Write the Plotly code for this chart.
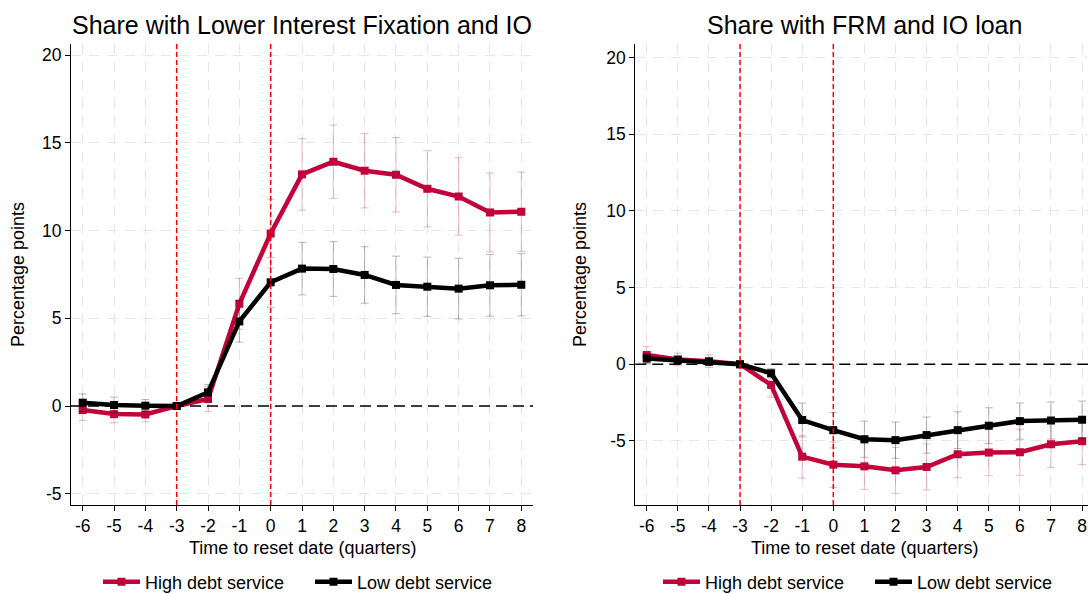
import plotly.graph_objects as go

# ---------------- data ----------------
quarters = [-6, -5, -4, -3, -2, -1, 0, 1, 2, 3, 4, 5, 6, 7, 8]
x_tick_text = ["-6", "-5", "-4", "-3", "-2", "-1", "0", "1", "2", "3", "4", "5", "6", "7", "8"]

# Left panel: Share with Lower Interest Fixation and IO
left_high = [-0.23, -0.46, -0.48, 0.0, 0.40, 5.83, 9.83, 13.20, 13.92, 13.41, 13.18, 12.38, 11.94, 11.03, 11.07]
left_high_ci = [0.60, 0.50, 0.42, 0.0, 0.70, 1.45, 1.96, 2.04, 2.09, 2.12, 2.12, 2.17, 2.21, 2.25, 2.26]
left_low = [0.19, 0.06, 0.02, 0.0, 0.78, 4.82, 7.05, 7.83, 7.81, 7.47, 6.90, 6.80, 6.69, 6.88, 6.91]
left_low_ci = [0.50, 0.45, 0.35, 0.0, 0.45, 1.18, 1.42, 1.50, 1.56, 1.61, 1.64, 1.69, 1.73, 1.76, 1.77]

# Right panel: Share with FRM and IO loan
right_high = [0.60, 0.31, 0.20, 0.0, -1.35, -6.03, -6.55, -6.66, -6.92, -6.70, -5.87, -5.76, -5.74, -5.22, -5.02]
right_high_ci = [0.56, 0.41, 0.41, 0.0, 0.80, 1.40, 1.48, 1.50, 1.50, 1.50, 1.53, 1.51, 1.50, 1.52, 1.53]
right_low = [0.37, 0.26, 0.16, 0.0, -0.59, -3.64, -4.30, -4.89, -4.95, -4.62, -4.30, -4.01, -3.71, -3.67, -3.62]
right_low_ci = [0.30, 0.28, 0.25, 0.0, 0.30, 1.11, 1.16, 1.18, 1.18, 1.18, 1.20, 1.17, 1.18, 1.21, 1.22]

y_ticks = [-5, 0, 5, 10, 15, 20]
y_tick_text = ["-5", "0", "5", "10", "15", "20"]
series_names = ["High debt service", "Low debt service"]
titles = ["Share with Lower Interest Fixation and IO", "Share with FRM and IO loan"]
x_title = "Time to reset date (quarters)"
y_title = "Percentage points"
event_lines = [-3, 0]

# ---------------- style ----------------
RED = "#C2003A"
BLACK = "#000000"
RED_ERR = "rgba(194,0,58,0.28)"
BLACK_ERR = "rgba(0,0,0,0.28)"
FONT = "Liberation Sans, Arial, sans-serif"
W, H = 1088, 594

fig = go.Figure()


def add_series(xa, ya, y, ci, name, color, errcolor, legend):
    fig.add_trace(go.Scatter(
        x=quarters, y=y, name=name, mode="lines+markers",
        xaxis=xa, yaxis=ya, legend=legend,
        line=dict(color=color, width=4.5),
        marker=dict(symbol="square", size=8, color=color),
        error_y=dict(type="data", array=ci, visible=True, color=errcolor,
                     thickness=1, width=4),
        cliponaxis=True,
    ))


add_series("x", "y", left_high, left_high_ci, series_names[0], RED, RED_ERR, "legend")
add_series("x", "y", left_low, left_low_ci, series_names[1], BLACK, BLACK_ERR, "legend")
add_series("x2", "y2", right_high, right_high_ci, series_names[0], RED, RED_ERR, "legend2")
add_series("x2", "y2", right_low, right_low_ci, series_names[1], BLACK, BLACK_ERR, "legend2")

ydom = [1 - 505 / H, 1 - 44 / H]
axis_common = dict(
    showline=True, linecolor="black", linewidth=1,
    ticks="outside", ticklen=5, tickcolor="black", tickwidth=1,
    tickfont=dict(family=FONT, size=17.5, color="black"),
    showgrid=True, gridcolor="#E6E6E6", gridwidth=1, griddash="10px,8px",
    zeroline=False, mirror=False, automargin=False,
)

legend_common = dict(orientation="h", yanchor="middle", xanchor="left",
                     font=dict(family=FONT, size=18, color="black"),
                     bgcolor="rgba(0,0,0,0)", itemwidth=37,
                     entrywidthmode="pixels", entrywidth=160)

fig.update_layout(
    width=W, height=H,
    margin=dict(l=0, r=0, t=0, b=0, autoexpand=False),
    paper_bgcolor="white", plot_bgcolor="white",
    font=dict(family=FONT, color="black"),
    xaxis=dict(domain=[71 / W, 533 / W], range=[-6.373, 8.373],
               tickvals=quarters, ticktext=x_tick_text, anchor="y", **axis_common),
    yaxis=dict(domain=ydom, range=[-5.64, 20.63], tickvals=y_ticks, ticktext=y_tick_text,
               anchor="x", **axis_common),
    xaxis2=dict(domain=[635.3 / W, 1.0], range=[-6.367, 8.19],
                tickvals=quarters, ticktext=x_tick_text, anchor="y2", **axis_common),
    yaxis2=dict(domain=ydom, range=[-9.18, 20.88], tickvals=y_ticks, ticktext=y_tick_text,
                anchor="x2", **axis_common),
    legend=dict(x=98 / W, y=1 - 582 / H, **legend_common),
    legend2=dict(x=658 / W, y=1 - 582 / H, **legend_common),
)

shapes = []
for xa, ya in [("x", "y"), ("x2", "y2")]:
    shapes.append(dict(type="line", xref=f"{xa} domain", yref=ya, x0=0, x1=1, y0=0, y1=0,
                       line=dict(color="black", width=1.5, dash="11px,6px"), layer="above"))
    for xv in event_lines:
        shapes.append(dict(type="line", xref=xa, yref=f"{ya} domain", x0=xv, x1=xv, y0=0, y1=1,
                           line=dict(color="#FF0000", width=1.5, dash="5px,3px"), layer="above"))
fig.update_layout(shapes=shapes)

annotations = []
for cx, t in [(302, titles[0]), (864, titles[1])]:
    annotations.append(dict(text=t, xref="paper", yref="paper", x=cx / W, y=1 - 25 / H,
                            xanchor="center", yanchor="middle", showarrow=False,
                            font=dict(family=FONT, size=25, color="black")))
for cx in [302, 864]:
    annotations.append(dict(text=x_title, xref="paper", yref="paper", x=cx / W, y=1 - 548 / H,
                            xanchor="center", yanchor="middle", showarrow=False,
                            font=dict(family=FONT, size=18, color="black")))
for cx in [18, 580]:
    annotations.append(dict(text=y_title, xref="paper", yref="paper", x=cx / W, y=1 - 275 / H,
                            xanchor="center", yanchor="middle", showarrow=False, textangle=-90,
                            font=dict(family=FONT, size=18, color="black")))
fig.update_layout(annotations=annotations)

fig.write_html("out.html")
